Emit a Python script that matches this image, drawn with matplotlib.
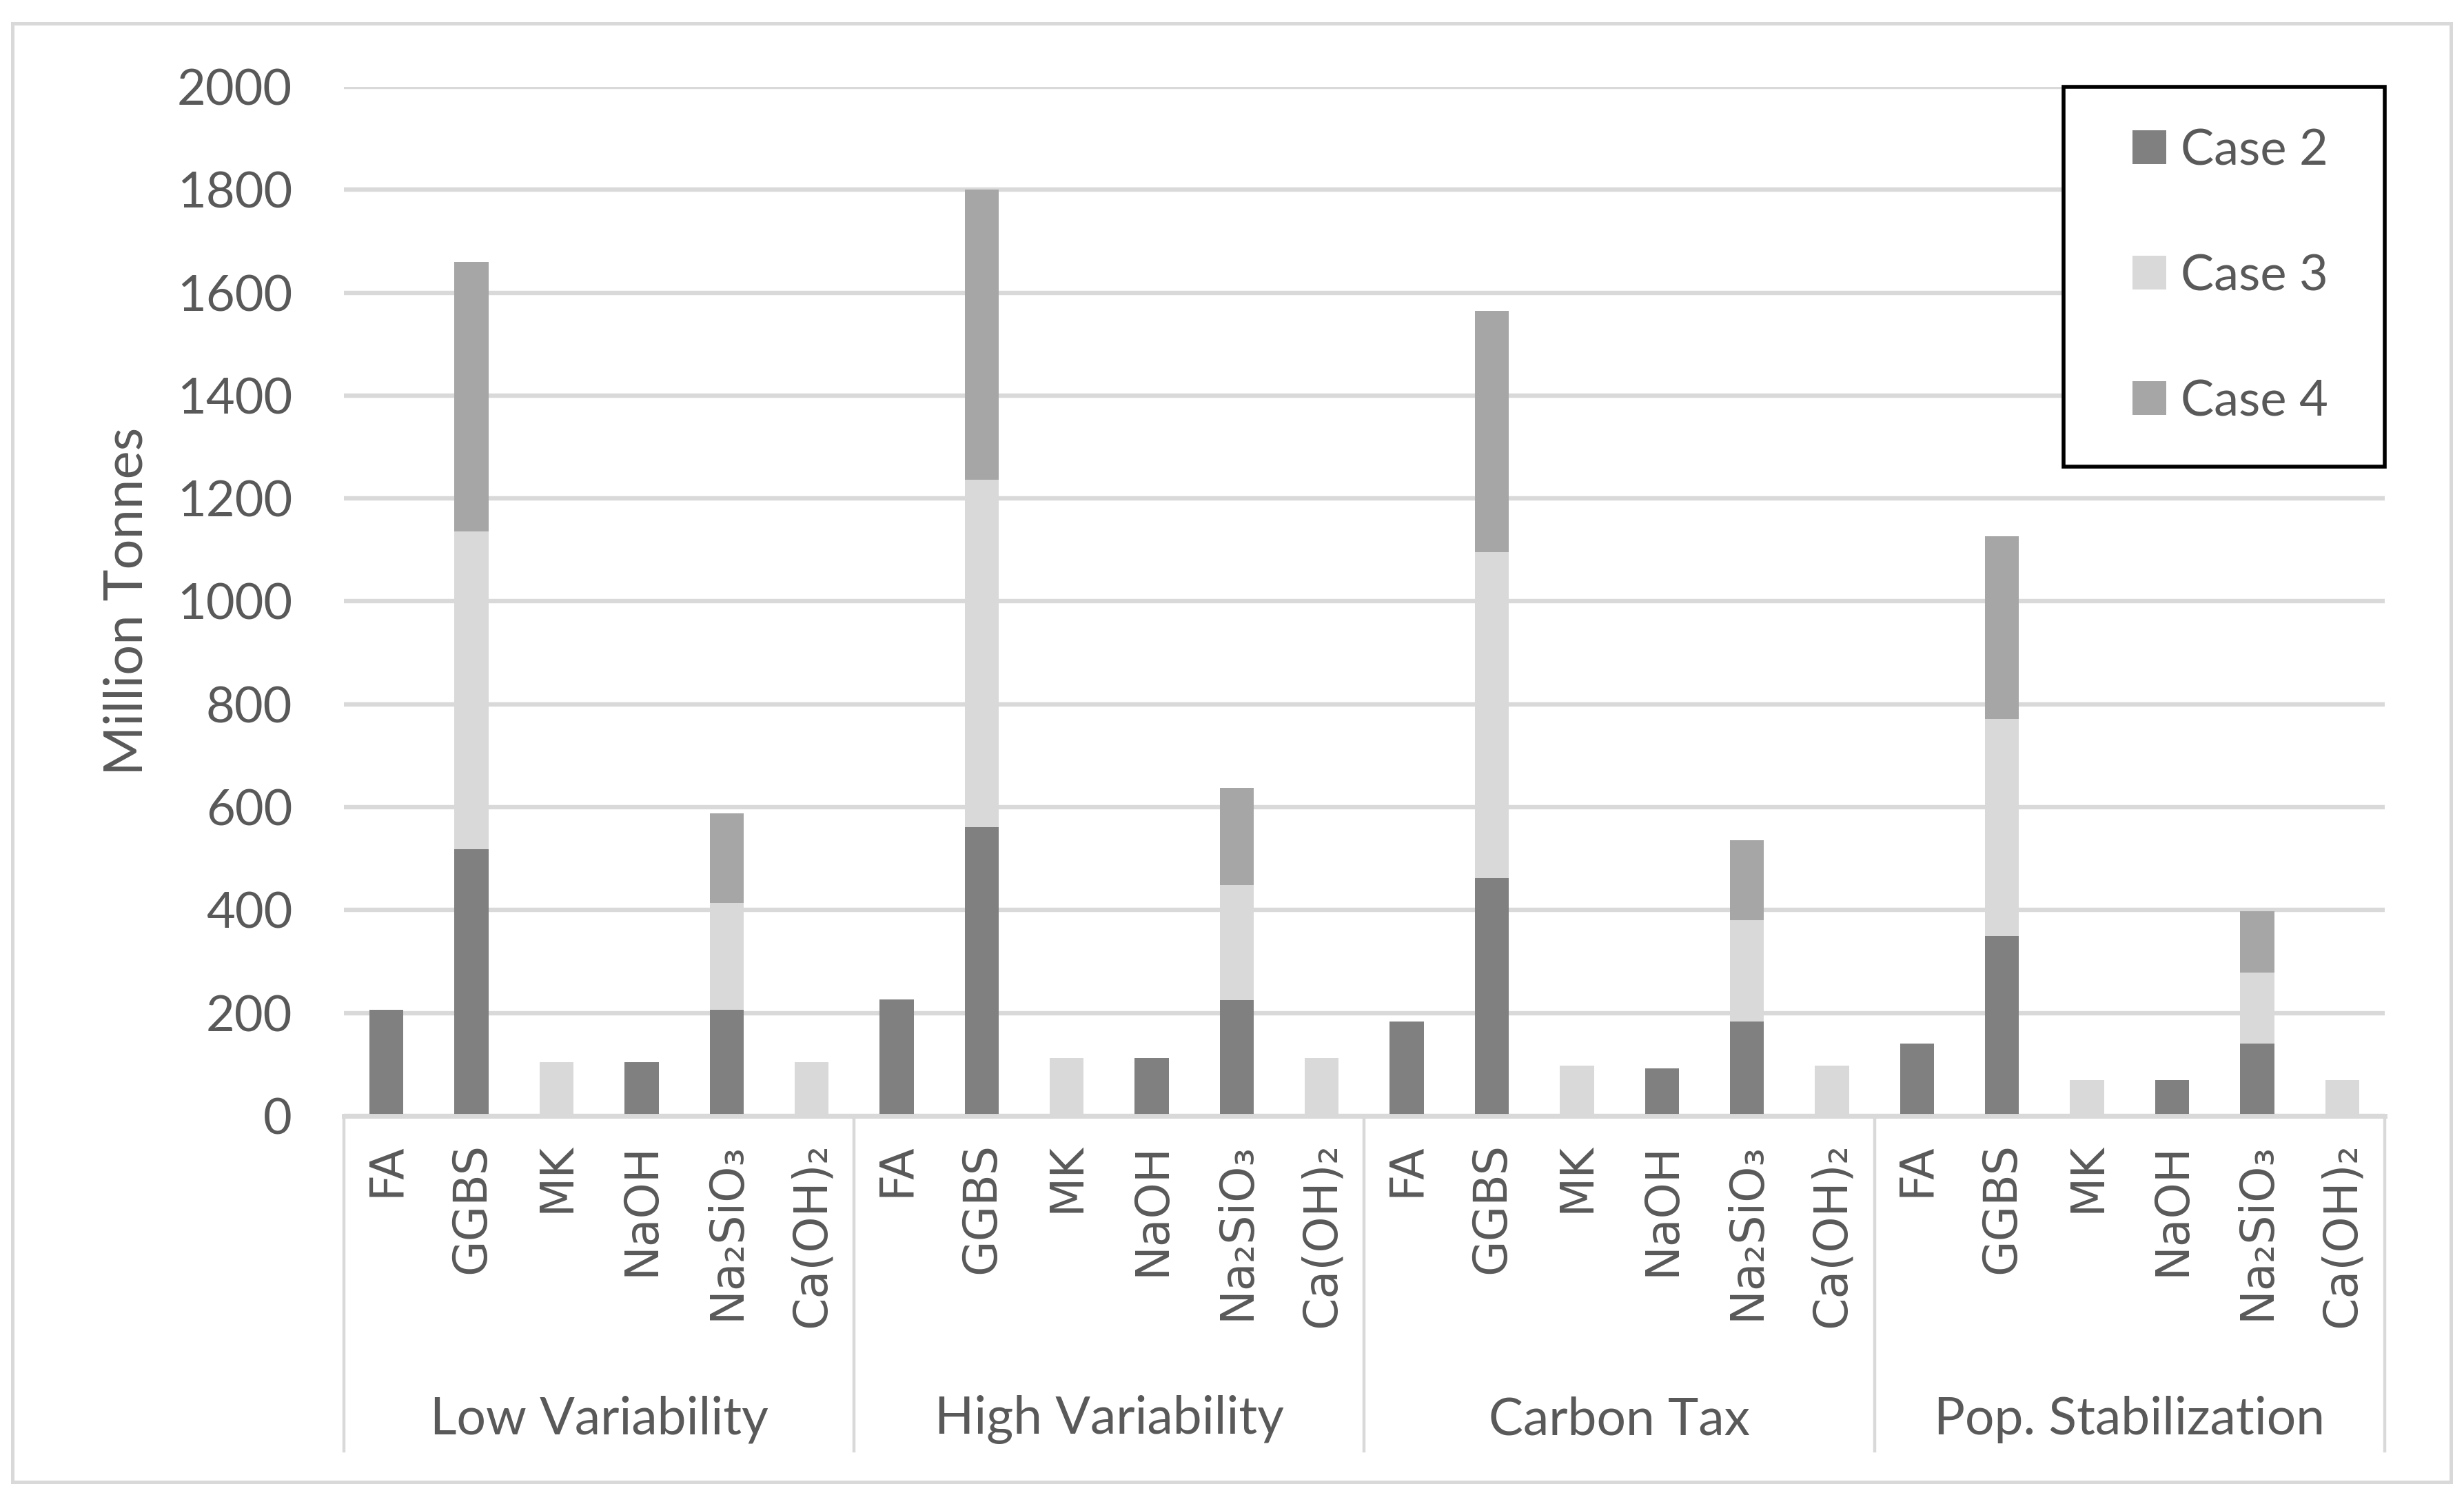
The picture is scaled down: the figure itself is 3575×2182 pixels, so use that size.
import numpy as np
import matplotlib.pyplot as plt
from matplotlib.patches import Rectangle

groups = ['Low Variability', 'High Variability', 'Carbon Tax', 'Pop. Stabilization']
materials = ['FA', 'GGBS', 'MK', 'NaOH', 'Na\u2082SiO\u2083', 'Ca(OH)\u2082']

# values per group, in the order of materials
case2 = [207, 518, 0, 104, 206, 0,
         226, 561, 0, 113, 225, 0,
         184, 462, 0, 92, 184, 0,
         141, 349, 0, 70, 141, 0]
case3 = [0, 618, 104, 0, 208, 104,
         0, 676, 113, 0, 224, 113,
         0, 634, 98, 0, 196, 98,
         0, 423, 70, 0, 138, 70]
case4 = [0, 524, 0, 0, 174, 0,
         0, 563, 0, 0, 189, 0,
         0, 469, 0, 0, 156, 0,
         0, 355, 0, 0, 119, 0]

yticks = np.arange(0, 2001, 200)

txt = '#595959'
grid = '#D9D9D9'
colors = ['#808080', '#D9D9D9', '#A6A6A6']

plt.rcParams['font.family'] = ['Lato', 'DejaVu Sans']

fig = plt.figure(figsize=(17.875, 10.91), dpi=200)
ax = fig.add_axes([0.1396, 0.2580, 0.9678 - 0.1396, 0.9423 - 0.2580])

x = np.arange(len(case2))
c2 = np.array(case2)
c3 = np.array(case3)
c4 = np.array(case4)
w = 0.4
ax.bar(x, c2, w, color=colors[0], label='Case 2', zorder=2)
ax.bar(x, c3, w, bottom=c2, color=colors[1], label='Case 3', zorder=2)
ax.bar(x, c4, w, bottom=c2 + c3, color=colors[2], label='Case 4', zorder=2)

ax.set_xlim(-0.5, len(x) - 0.5)
ax.set_ylim(0, 2000)
ax.set_yticks(yticks)
ax.set_yticklabels([str(v) for v in yticks])
ax.yaxis.grid(True, color=grid, linewidth=2.3, zorder=0)
ax.set_axisbelow(True)
for s in ['top', 'right', 'left']:
    ax.spines[s].set_visible(False)
ax.spines['bottom'].set_color(grid)
ax.spines['bottom'].set_linewidth(2.5)
ax.spines['bottom'].set_zorder(3)
ax.tick_params(axis='y', length=0, pad=27, labelsize=26, labelcolor=txt)
ax.tick_params(axis='x', length=0, pad=14)

ax.set_xticks(x)
ax.set_xticklabels(materials * len(groups), rotation=90, va='top', ha='center',
                   fontsize=24, color=txt, family=['DejaVu Sans'])

ax.set_ylabel('Million Tonnes', fontsize=28, color=txt, labelpad=13)

# group separators and group labels
xt = ax.get_xaxis_transform()
n = len(materials)
for i in range(len(groups) + 1):
    b = i * n - 0.5
    ax.plot([b, b], [0, -0.3255], transform=xt, color=grid, linewidth=1.6,
            clip_on=False, zorder=1)
for i, g in enumerate(groups):
    ax.text(i * n + (n - 1) / 2, -0.295, g, transform=xt, ha='center', va='center',
            fontsize=27, color=txt)

# legend with box
ax.add_patch(Rectangle((0.8426, 0.631), 1 - 0.8426, 1 - 0.631, transform=ax.transAxes,
                       fill=True, facecolor='white', edgecolor='black', linewidth=2.0,
                       zorder=4, clip_on=False))
leg = ax.legend(loc='center', bbox_to_anchor=(0.9245, 0.816), frameon=False,
                fontsize=26, labelcolor=txt, labelspacing=1.62, handlelength=0.67,
                handleheight=0.67, handletextpad=0.3)
leg.set_zorder(5)

# outer chart border
fig.patches.append(Rectangle((18 / 3575, 1 - 2150 / 2182), (3556 - 18) / 3575, (2150 - 34) / 2182,
                             transform=fig.transFigure, fill=False, edgecolor=grid,
                             linewidth=1.8))

plt.savefig('out.png', dpi=200)
